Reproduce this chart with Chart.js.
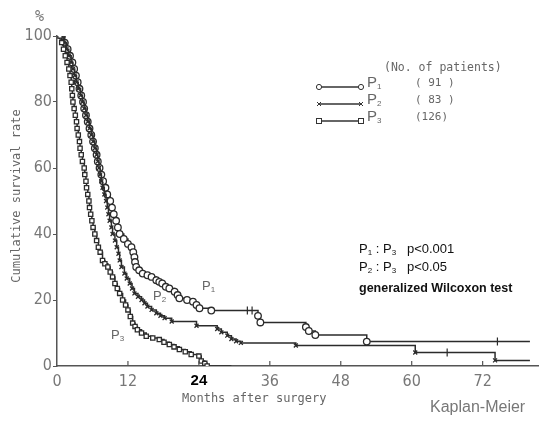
<!DOCTYPE html>
<html>
<head>
<meta charset="utf-8">
<script src="https://cdn.jsdelivr.net/npm/chart.js@4/dist/chart.umd.min.js"></script>
<style>
  body { margin:0; background:#fff; }
  #wrap { position:relative; width:544px; height:425px; overflow:hidden; }
  .t { position:absolute; white-space:nowrap; color:#555; }
  .mono { font-family:"DejaVu Sans Mono","Liberation Mono",monospace; font-size:11px; color:#666; }
  .stat { font-family:"Liberation Sans","DejaVu Sans",sans-serif; font-size:13px; color:#111; }
  sub { font-size:8px; vertical-align:-2px; }
</style>
</head>
<body>
<div id="wrap">
<canvas id="c" width="544" height="425"></canvas>
</div>
<script>
// ---- data (months after surgery, cumulative survival %) ----
const p1Months = [0.8,1.3,1.8,2.2,2.6,2.9,3.2,3.5,3.8,4.1,4.4,4.6,4.9,5.2,5.5,5.8,6.1,6.4,6.7,6.9,7.2,7.5,7.8,8.2,8.5,9.0,9.3,9.6,10.0,10.3,10.6,11.3,12.0,12.6,12.9,13.1,13.2,13.4,13.9,14.5,15.3,16.0,16.8,17.3,17.8,18.4,19.0,19.9,20.4,20.7,22.0,23.0,23.6,24.1,26.1,34.0,34.4,42.1,42.6,43.7,52.4,80.0];
const p1Surv   = [100,98,96,94,92,90,88,86,84,82,80,78,76,74,72,70,68,66,64,62,60,58,56,54,52,50,48,46,44,42,40,38.5,37,36,34.5,33,31.5,30,29,28,27.5,27,26,25.5,25,24,23.5,22.5,21.5,20.5,20,19.5,18.5,17.5,16.8,15.2,13.2,11.8,10.6,9.4,7.4,7.4];

const p2Months = [0.8,1.2,1.6,2.0,2.4,2.7,3.0,3.3,3.6,4.0,4.3,4.6,4.9,5.2,5.5,5.8,6.1,6.4,6.7,6.9,7.1,7.3,7.5,7.7,8.0,8.3,8.5,8.7,8.9,9.2,9.4,9.8,10.1,10.4,10.6,10.9,11.4,11.8,12.3,12.7,13.1,13.7,14.3,14.8,15.3,16.0,16.8,17.5,18.2,19.4,23.6,27.1,27.8,28.8,29.5,30.3,31.1,40.4,60.6,74.1,80.0];
const p2Surv   = [100,98,96,94,92,90,88,86,84,82,80,78,76,74,72,70,68,66,64,62,60,58,56,54,52,50,48,46,44,42,40,38,36,34,32,30,28,26.5,25,23.5,22,21,20,19,18,17,16,15.2,14.5,13.5,12.2,11.2,10.2,9.2,8.2,7.5,7.0,6.2,4.1,1.7,1.7];

const p3Months = [0.5,0.8,1.1,1.4,1.7,2.0,2.2,2.4,2.5,2.6,2.7,2.9,3.1,3.3,3.4,3.6,3.8,3.9,4.1,4.3,4.6,4.7,4.9,5.0,5.2,5.4,5.5,5.7,5.9,6.1,6.4,6.7,7.0,7.3,7.7,8.1,8.6,9.0,9.4,9.8,10.2,10.6,11.1,11.6,12.0,12.4,12.8,13.2,13.6,14.3,15.1,16.2,17.3,18.1,19.0,19.8,20.7,21.7,22.7,24.0,24.4,25.0,25.4,29.5];
const p3Surv   = [100,98,96,94,92,90,88,86,84,82,80,78,76,74,72,70,68,66,64,62,60,58,56,54,52,50,48,46,44,42,40,38,36,34.5,32,31,30,28.5,27,25,23.5,22,20,18.5,17,15,13,12,11,10,9,8.5,8,7.2,6.5,5.8,5,4.3,3.5,3,1.5,0.8,0,0];

// censored observations (tick marks)
const p1CensorMonths = [32.2,33.0,74.5];
const p1CensorSurv   = [16.8,16.8,7.4];
const p2CensorMonths = [66.0];
const p2CensorSurv   = [4.1];

const xTicks = [0,12,24,36,48,60,72];
const yTicks = [0,20,40,60,80,100];
const seriesNames = ["P1","P2","P3"];
const patients = [91,83,126];

// ---- build ----
const pts = (xs, ys) => xs.map((x,i)=>({x:x, y:ys[i]}));
const INK = '#2b2b2b';
function curve(label, xs, ys, style, r) {
  return {
    label, data: pts(xs, ys), stepped: true, showLine: true,
    borderColor: INK, borderWidth: 1.5, backgroundColor: '#fff',
    pointStyle: style,
    pointRadius: ctx => ctx.dataIndex === xs.length - 1 ? 0 : r,
    pointBorderColor: INK, pointBorderWidth: 1.3, pointBackgroundColor: '#fff',
    pointHoverRadius: r
  };
}
function censor(xs, ys) {
  return {
    label: 'censored', data: pts(xs, ys), showLine: false,
    pointStyle: 'line', rotation: 90, pointRadius: 4, pointBorderWidth: 1.2,
    pointBorderColor: INK, borderColor: INK
  };
}

const innerTicks = {
  id: 'innerTicks',
  afterDraw(chart) {
    const xs = chart.scales.x, ctx = chart.ctx, b = chart.chartArea.bottom;
    ctx.save(); ctx.strokeStyle = '#555'; ctx.lineWidth = 1.2;
    xTicks.forEach(v => { if (v === 0) return;
      const px = xs.getPixelForValue(v);
      ctx.beginPath(); ctx.moveTo(px, b); ctx.lineTo(px, b - 5); ctx.stroke(); });
    ctx.restore();
  }
};

new Chart(document.getElementById('c'), {
  type: 'scatter',
  data: { datasets: [
    curve(seriesNames[2], p3Months, p3Surv, 'rect', 3),
    curve(seriesNames[1], p2Months, p2Surv, 'crossRot', 2.8),
    curve(seriesNames[0], p1Months, p1Surv, 'circle', 3.3),
    censor(p1CensorMonths, p1CensorSurv),
    censor(p2CensorMonths, p2CensorSurv)
  ]},
  options: {
    responsive: false, animation: false, devicePixelRatio: 1,
    layout: { padding: { top: 36, right: 3, left: 0, bottom: 0 } },
    plugins: { legend: { display: false }, tooltip: { enabled: false } },
    scales: {
      x: {
        type: 'linear', min: 0, max: 81.5,
        afterFit: s => { s.height = 59; },
        afterBuildTicks: s => { s.ticks = xTicks.map(v => ({value: v})); },
        border: { display: true, color: '#555', width: 1.5 },
        grid: { display: true, drawOnChartArea: false, drawTicks: false },
        ticks: {
          padding: 6,
          color: c => c.tick && c.tick.value === 24 ? '#000' : '#777',
          font: c => c.tick && c.tick.value === 24
            ? { family: '"Liberation Sans", sans-serif', size: 15, weight: 'bold' }
            : { family: '"Liberation Sans Narrow","DejaVu Sans Condensed","Liberation Sans",sans-serif', size: 16 }
        }
      },
      y: {
        min: 0, max: 100,
        afterFit: s => { s.width = 57; },
        afterBuildTicks: s => { s.ticks = yTicks.map(v => ({value: v})); },
        border: { display: true, color: '#555', width: 1.5 },
        grid: { display: true, drawOnChartArea: false, drawTicks: true, tickLength: 4, color: '#555' },
        ticks: {
          padding: 1, color: '#777',
          font: { family: '"Liberation Sans Narrow","DejaVu Sans Condensed","Liberation Sans",sans-serif', size: 16 }
        }
      }
    }
  },
  plugins: [innerTicks]
});

// ---- text overlays ----
const wrap = document.getElementById('wrap');
function addText(html, cls, css) {
  const d = document.createElement('div');
  d.className = 't ' + cls; d.innerHTML = html;
  Object.assign(d.style, css); wrap.appendChild(d); return d;
}
addText('%', 'mono', { left: '35px', top: '7px', fontSize: '15px', color: '#777' });
addText('Cumulative survival rate', 'mono', { left: '16px', top: '196px', transform: 'translate(-50%,-50%) rotate(-90deg)', fontSize: '12px' });
addText('Months after surgery', 'mono', { left: '182px', top: '391px', fontSize: '12px' });
addText('Kaplan-Meier', 'stat', { left: '430px', top: '398px', fontSize: '16px', color: '#777' });

addText('(No. of patients)', 'mono', { left: '384px', top: '60px', fontSize: '11.5px' });
const rowY = [83, 100, 117];
const markers = [
  '<circle cx="4" cy="5" r="2.6" fill="#fff" stroke="#333" stroke-width="1"/><circle cx="46" cy="5" r="2.6" fill="#fff" stroke="#333" stroke-width="1"/>',
  '<path d="M2 3 L6 7 M6 3 L2 7 M44 3 L48 7 M48 3 L44 7" stroke="#333" stroke-width="1"/>',
  '<rect x="1.5" y="2.5" width="5" height="5" fill="#fff" stroke="#333" stroke-width="1"/><rect x="43.5" y="2.5" width="5" height="5" fill="#fff" stroke="#333" stroke-width="1"/>'
];
seriesNames.forEach((n, i) => {
  addText('<svg width="52" height="10"><line x1="5" y1="5" x2="45" y2="5" stroke="#333" stroke-width="1.3"/>' + markers[i] + '</svg>', '', { left: '315px', top: (rowY[i] - 5) + 'px' });
  addText('P<sub>' + (i + 1) + '</sub>', 'stat', { left: '367px', top: (rowY[i] - 10) + 'px', fontSize: '15px', color: '#666' });
  const num = String(patients[i]);
  addText('(' + (num.length < 3 ? ' ' + num + ' ' : num) + ')', 'mono', { left: '415px', top: (rowY[i] - 7) + 'px', fontSize: '11px' });
});

// curve labels
addText('P<sub>1</sub>', 'stat', { left: '202px', top: '278px', fontSize: '13px', color: '#666' });
addText('P<sub>2</sub>', 'stat', { left: '153px', top: '288px', fontSize: '13px', color: '#666' });
addText('P<sub>3</sub>', 'stat', { left: '111px', top: '327px', fontSize: '13px', color: '#666' });

// statistics
addText('P<sub>1</sub> : P<sub>3</sub>&nbsp;&nbsp; p&lt;0.001', 'stat', { left: '359px', top: '241px' });
addText('P<sub>2</sub> : P<sub>3</sub>&nbsp;&nbsp; p&lt;0.05', 'stat', { left: '359px', top: '259px' });
addText('generalized Wilcoxon test', 'stat', { left: '359px', top: '281px', fontWeight: 'bold', fontSize: '12.5px' });
</script>
</body>
</html>
